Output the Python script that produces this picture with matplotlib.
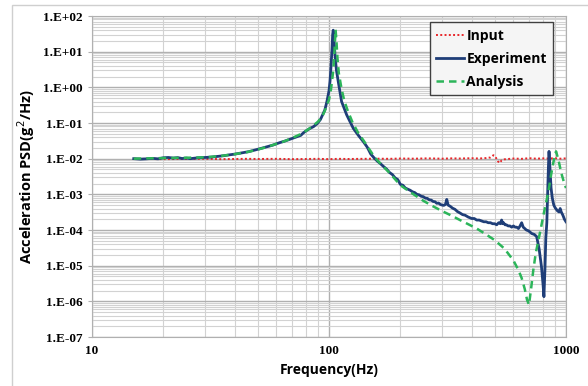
import math
import matplotlib.pyplot as plt
from matplotlib.ticker import LogLocator, FuncFormatter, NullFormatter
from matplotlib.patches import Rectangle

# Input (red dotted)
input_freq = [15, 20, 25, 30, 35, 40, 45, 50, 60, 70, 80, 90, 100, 110, 120, 140, 160, 180,
              200, 230, 260, 300, 330, 360, 400, 430, 460, 480, 494, 505, 515, 526, 535, 550,
              600, 650, 700, 750, 800, 850, 900, 950, 1000]
input_psd = [0.0099, 0.0097, 0.0098, 0.0099, 0.0097, 0.0098, 0.0099, 0.0098, 0.0099, 0.0097,
             0.0098, 0.0099, 0.0097, 0.0099, 0.0098, 0.0099, 0.0100, 0.0099, 0.0101, 0.0100,
             0.0102, 0.0100, 0.0102, 0.0101, 0.0103, 0.0101, 0.0104, 0.0108, 0.0125, 0.0110,
             0.0085, 0.0076, 0.0090, 0.0096, 0.0101, 0.0099, 0.0103, 0.0100, 0.0102, 0.0101,
             0.0103, 0.0100, 0.0102]

# Experiment (navy solid)
exp_freq = [15, 16, 17, 18, 19, 20, 21, 22, 23, 24, 25, 26, 27, 28, 30, 32, 34, 36, 38, 40,
            42, 44, 46, 48, 50, 52, 54, 56, 58, 60, 62, 65, 68, 71, 74, 76, 78, 80, 83, 86,
            89, 92, 94, 96, 98, 100, 101, 102, 103, 103.6, 104.2, 105, 106, 107.5, 109.5,
            113, 118.7, 126.6, 133, 139.6, 145, 150, 155, 160, 165, 170, 175, 180, 185, 190,
            195, 200, 205, 210, 215, 220, 225, 230, 235, 240, 245, 250, 255, 260, 265, 270,
            275, 280, 285, 290, 295, 300, 305, 310, 314, 318, 325, 332, 340, 348, 357, 366,
            375, 387, 400, 410, 420, 430, 440, 450, 460, 470, 480, 490, 500, 510, 520, 528,
            535, 540, 545, 553, 560, 570, 580, 590, 600, 610, 620, 630, 640, 650, 660, 670,
            680, 695, 716, 735, 752, 770, 788, 800, 807, 815, 822, 830, 836, 843, 848, 855,
            865, 875, 888, 900, 910, 922, 935, 945, 955, 970, 985, 1000]
exp_psd = [0.0100, 0.0097, 0.0099, 0.0102, 0.0099, 0.0106, 0.0108, 0.0104, 0.0107, 0.0101,
           0.0104, 0.0100, 0.0103, 0.0106, 0.0108, 0.0111, 0.0116, 0.0121, 0.0128, 0.0134,
           0.0142, 0.0150, 0.0158, 0.0170, 0.0182, 0.0196, 0.0210, 0.0226, 0.0240, 0.0260,
           0.0282, 0.0310, 0.0345, 0.0385, 0.0420, 0.0450, 0.0530, 0.0600, 0.0700, 0.0790,
           0.095, 0.125, 0.17, 0.23, 0.40, 0.80, 1.5, 4.0, 12.0, 30.0, 40.0, 22.0, 8.0, 3.0,
           1.4, 0.40, 0.17, 0.071, 0.045, 0.030, 0.021, 0.0135, 0.0105, 0.0085, 0.0072,
           0.0060, 0.0051, 0.0041, 0.0036, 0.0029, 0.0026, 0.0019, 0.0018, 0.0015, 0.0014,
           0.0013, 0.00118, 0.00112, 0.00100, 0.00097, 0.00088, 0.00086, 0.00078, 0.00077,
           0.00070, 0.00069, 0.00063, 0.00062, 0.00056, 0.00057, 0.00052, 0.00050, 0.00049,
           0.00052, 0.00072, 0.00050, 0.00046, 0.00041, 0.00038, 0.00033, 0.00030, 0.00027,
           0.00026, 0.00023, 0.00021, 0.00021, 0.00019, 0.00019, 0.00018, 0.00017, 0.00017,
           0.00016, 0.00016, 0.00015, 0.00015, 0.00014, 0.00016, 0.00015, 0.00019, 0.00015,
           0.00016, 0.00014, 0.00014, 0.00013, 0.00013, 0.00012, 0.00013, 0.00012, 0.00012,
           0.00011, 0.00013, 0.00016, 0.00012, 0.00011, 0.00010, 0.000095, 0.00008,
           0.000075, 0.000065, 0.00003, 0.0000093, 0.000003, 0.00000135, 0.000008, 0.00006,
           0.00016, 0.00086, 0.006, 0.016, 0.006, 0.0015, 0.0008, 0.0005, 0.00042, 0.00038,
           0.00034, 0.00032, 0.0004, 0.00032, 0.00026, 0.0002, 0.00017]

# Analysis (green dashed)
ana_freq = [15, 20, 25, 30, 35, 40, 45, 50, 55, 60, 65, 70, 75, 80, 85, 90, 94, 97, 100,
            102, 104, 105, 106, 106.6, 107.5, 108.5, 110, 113, 116, 120, 126, 133, 140, 150,
            155, 165, 180, 200, 225, 250, 275, 300, 330, 357, 387, 420, 460, 500, 550, 600,
            630, 650, 670, 685, 698, 712, 728, 745, 765, 785, 800, 820, 843, 865, 885, 908,
            930, 955, 980, 1000]
ana_psd = [0.0100, 0.0104, 0.0106, 0.0109, 0.0119, 0.0134, 0.0152, 0.0180, 0.0215, 0.026,
           0.031, 0.038, 0.047, 0.060, 0.080, 0.11, 0.16, 0.26, 0.45, 0.9, 2.6, 6.0, 20.0,
           42.0, 20.0, 7.0, 2.5, 0.9, 0.42, 0.22, 0.10, 0.052, 0.032, 0.016, 0.0115, 0.0072,
           0.0040, 0.0018, 0.00105, 0.00066, 0.00046, 0.00034, 0.00025, 0.00019, 0.000145,
           0.00011, 0.000075, 0.000052, 0.000030, 0.000014, 0.0000075, 0.0000045, 0.0000022,
           0.0000011, 0.0000008, 0.0000022, 0.0000076, 0.000022, 0.000052, 0.00012, 0.00023,
           0.0005, 0.0012, 0.0035, 0.008, 0.016, 0.009, 0.004, 0.0022, 0.0015]

label_font = "Open Sans"
tick_font = "Liberation Serif"

fig = plt.figure(figsize=(5.88, 3.86), dpi=100)
ax = fig.add_axes([92 / 588, 1 - 337 / 386, 474 / 588, 321 / 386])

# light frame around the chart area
fig.patches.append(Rectangle((12 / 588, -0.1), 1.0, 1.1 - 5 / 386, transform=fig.transFigure,
                             fill=False, edgecolor="#cfcfcf", linewidth=1))

ax.plot(input_freq, input_psd, color="#e8262a", linestyle=(0, (1, 1.2)), linewidth=1.4,
        label="Input")
ax.plot(exp_freq, exp_psd, color="#1f3e78", linewidth=2.0, label="Experiment")
ax.plot(ana_freq, ana_psd, color="#2cb55a", linestyle=(0, (3, 2)), linewidth=1.8,
        label="Analysis")

ax.set_xscale("log")
ax.set_yscale("log")
ax.set_xlim(10, 1000)
ax.set_ylim(1e-7, 1e2)

ax.yaxis.set_major_locator(LogLocator(base=10, numticks=20))
ax.yaxis.set_minor_locator(LogLocator(base=10, subs=range(2, 10), numticks=100))
ax.yaxis.set_major_formatter(FuncFormatter(lambda v, p: "1.E%+03d" % round(math.log10(v))))
ax.yaxis.set_minor_formatter(NullFormatter())
ax.xaxis.set_major_formatter(FuncFormatter(lambda v, p: "%d" % v))
ax.xaxis.set_minor_formatter(NullFormatter())

ax.grid(True, which="major", color="#b0b0b0", linewidth=1.0)
ax.grid(True, which="minor", color="#d2d2d2", linewidth=0.8)
ax.set_axisbelow(True)

ax.tick_params(axis="y", which="major", length=3, width=0.8, color="#b0b0b0", pad=4)
ax.tick_params(axis="x", which="major", length=0, pad=6)
ax.tick_params(which="minor", length=0)
for lab in ax.get_xticklabels() + ax.get_yticklabels():
    lab.set_fontfamily(tick_font)
    lab.set_fontweight("bold")
    lab.set_fontsize(9.5)

for s in ax.spines.values():
    s.set_color("#b0b0b0")

ax.set_xlabel("Frequency(Hz)", fontfamily=label_font, fontweight="bold", fontsize=10, labelpad=4)
ax.set_ylabel("Acceleration PSD(g$^2$/Hz)", fontfamily=label_font, fontweight="bold",
              fontsize=10.5, labelpad=4)

leg = ax.legend(loc="upper right", bbox_to_anchor=(0.973, 0.98), fancybox=False,
                prop={"family": label_font, "weight": "bold", "size": 10},
                handlelength=2.0, handletextpad=0.2, labelspacing=0.65, borderpad=0.45,
                borderaxespad=0)
leg.get_frame().set_edgecolor("#404040")
leg.get_frame().set_facecolor("#f5f5f5")
leg.get_frame().set_alpha(1)
leg.get_frame().set_linewidth(1)

fig.savefig("out.png", dpi=100)
